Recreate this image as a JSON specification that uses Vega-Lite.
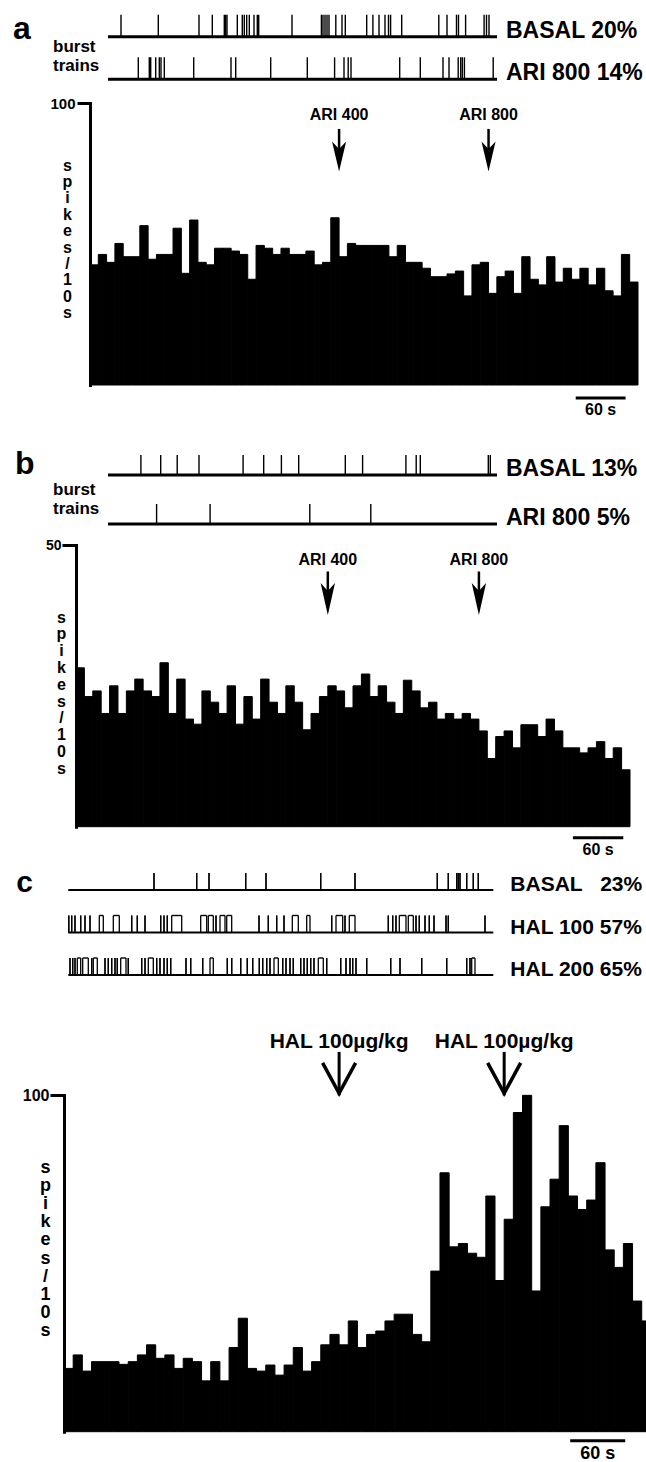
{
"$schema": "https://vega.github.io/schema/vega-lite/v6.json",
"width": 646, "height": 1462,
"autosize": {"type": "none"},
"padding": 0,
"background": "white",
"config": {"view": {"stroke": null}, "text": {"font": "Liberation Sans", "fontWeight": "bold", "color": "black"}},
"datasets": {
"hist_a": [{"t0":0,"t1":10,"v":42.6},{"t0":10,"t1":20,"v":46.3},{"t0":20,"t1":30,"v":43.5},{"t0":30,"t1":40,"v":50.2},{"t0":40,"t1":50,"v":45.5},{"t0":50,"t1":60,"v":45.5},{"t0":60,"t1":70,"v":56.5},{"t0":70,"t1":80,"v":44.6},{"t0":80,"t1":90,"v":46.3},{"t0":90,"t1":100,"v":46.3},{"t0":100,"t1":110,"v":55.6},{"t0":110,"t1":120,"v":39.6},{"t0":120,"t1":130,"v":58.5},{"t0":130,"t1":140,"v":43.5},{"t0":140,"t1":150,"v":42.6},{"t0":150,"t1":160,"v":48.5},{"t0":160,"t1":170,"v":48.5},{"t0":170,"t1":180,"v":47.5},{"t0":180,"t1":190,"v":46.3},{"t0":190,"t1":200,"v":37.5},{"t0":200,"t1":210,"v":49.5},{"t0":210,"t1":220,"v":48.5},{"t0":220,"t1":230,"v":46.3},{"t0":230,"t1":240,"v":48.5},{"t0":240,"t1":250,"v":46.3},{"t0":250,"t1":260,"v":46.3},{"t0":260,"t1":270,"v":47.5},{"t0":270,"t1":280,"v":42.6},{"t0":280,"t1":290,"v":43.5},{"t0":290,"t1":300,"v":59.3},{"t0":300,"t1":310,"v":45.5},{"t0":310,"t1":320,"v":50.2},{"t0":320,"t1":330,"v":49.5},{"t0":330,"t1":340,"v":49.5},{"t0":340,"t1":350,"v":49.5},{"t0":350,"t1":360,"v":49.5},{"t0":360,"t1":370,"v":45.5},{"t0":370,"t1":380,"v":49.5},{"t0":380,"t1":390,"v":43.5},{"t0":390,"t1":400,"v":43.5},{"t0":400,"t1":410,"v":41.4},{"t0":410,"t1":420,"v":38.4},{"t0":420,"t1":430,"v":38.4},{"t0":430,"t1":440,"v":39.4},{"t0":440,"t1":450,"v":40.4},{"t0":450,"t1":460,"v":31.6},{"t0":460,"t1":470,"v":42.6},{"t0":470,"t1":480,"v":43.5},{"t0":480,"t1":490,"v":32.5},{"t0":490,"t1":500,"v":38.4},{"t0":500,"t1":510,"v":40.4},{"t0":510,"t1":520,"v":32.5},{"t0":520,"t1":530,"v":45.5},{"t0":530,"t1":540,"v":37.5},{"t0":540,"t1":550,"v":35.5},{"t0":550,"t1":560,"v":45.5},{"t0":560,"t1":570,"v":36.5},{"t0":570,"t1":580,"v":41.4},{"t0":580,"t1":590,"v":37.5},{"t0":590,"t1":600,"v":41.4},{"t0":600,"t1":610,"v":35.5},{"t0":610,"t1":620,"v":41.4},{"t0":620,"t1":630,"v":33.4},{"t0":630,"t1":640,"v":31.6},{"t0":640,"t1":650,"v":46.3},{"t0":650,"t1":660,"v":36.5}],
"hist_b": [{"t0":0,"t1":10,"v":28.2},{"t0":10,"t1":20,"v":23.1},{"t0":20,"t1":30,"v":24.1},{"t0":30,"t1":40,"v":20.1},{"t0":40,"t1":50,"v":25.0},{"t0":50,"t1":60,"v":20.1},{"t0":60,"t1":70,"v":24.1},{"t0":70,"t1":80,"v":26.2},{"t0":80,"t1":90,"v":24.1},{"t0":90,"t1":100,"v":23.1},{"t0":100,"t1":110,"v":29.1},{"t0":110,"t1":120,"v":20.1},{"t0":120,"t1":130,"v":26.2},{"t0":130,"t1":140,"v":19.1},{"t0":140,"t1":150,"v":18.2},{"t0":150,"t1":160,"v":24.1},{"t0":160,"t1":170,"v":22.1},{"t0":170,"t1":180,"v":20.1},{"t0":180,"t1":190,"v":25.0},{"t0":190,"t1":200,"v":18.2},{"t0":200,"t1":210,"v":23.1},{"t0":210,"t1":220,"v":19.1},{"t0":220,"t1":230,"v":26.2},{"t0":230,"t1":240,"v":22.1},{"t0":240,"t1":250,"v":20.1},{"t0":250,"t1":260,"v":25.0},{"t0":260,"t1":270,"v":22.1},{"t0":270,"t1":280,"v":17.2},{"t0":280,"t1":290,"v":20.1},{"t0":290,"t1":300,"v":23.1},{"t0":300,"t1":310,"v":25.0},{"t0":310,"t1":320,"v":24.1},{"t0":320,"t1":330,"v":21.1},{"t0":330,"t1":340,"v":25.0},{"t0":340,"t1":350,"v":27.1},{"t0":350,"t1":360,"v":23.1},{"t0":360,"t1":370,"v":25.0},{"t0":370,"t1":380,"v":22.1},{"t0":380,"t1":390,"v":20.1},{"t0":390,"t1":400,"v":26.0},{"t0":400,"t1":410,"v":24.1},{"t0":410,"t1":420,"v":21.1},{"t0":420,"t1":430,"v":22.1},{"t0":430,"t1":440,"v":19.1},{"t0":440,"t1":450,"v":20.1},{"t0":450,"t1":460,"v":19.1},{"t0":460,"t1":470,"v":20.1},{"t0":470,"t1":480,"v":19.1},{"t0":480,"t1":490,"v":17.0},{"t0":490,"t1":500,"v":12.1},{"t0":500,"t1":510,"v":16.0},{"t0":510,"t1":520,"v":17.0},{"t0":520,"t1":530,"v":14.0},{"t0":530,"t1":540,"v":18.1},{"t0":540,"t1":550,"v":18.1},{"t0":550,"t1":560,"v":16.0},{"t0":560,"t1":570,"v":19.1},{"t0":570,"t1":580,"v":17.0},{"t0":580,"t1":590,"v":14.0},{"t0":590,"t1":600,"v":14.0},{"t0":600,"t1":610,"v":13.1},{"t0":610,"t1":620,"v":14.0},{"t0":620,"t1":630,"v":15.1},{"t0":630,"t1":640,"v":12.1},{"t0":640,"t1":650,"v":14.0},{"t0":650,"t1":660,"v":10.1}],
"hist_c": [{"t0":0,"t1":10,"v":18.8},{"t0":10,"t1":20,"v":22.8},{"t0":20,"t1":30,"v":18.0},{"t0":30,"t1":40,"v":20.8},{"t0":40,"t1":50,"v":20.8},{"t0":50,"t1":60,"v":20.8},{"t0":60,"t1":70,"v":20.0},{"t0":70,"t1":80,"v":20.8},{"t0":80,"t1":90,"v":22.8},{"t0":90,"t1":100,"v":25.8},{"t0":100,"t1":110,"v":21.8},{"t0":110,"t1":120,"v":22.8},{"t0":120,"t1":130,"v":18.8},{"t0":130,"t1":140,"v":21.8},{"t0":140,"t1":150,"v":20.8},{"t0":150,"t1":160,"v":15.1},{"t0":160,"t1":170,"v":20.8},{"t0":170,"t1":180,"v":15.1},{"t0":180,"t1":190,"v":25.0},{"t0":190,"t1":200,"v":33.7},{"t0":200,"t1":210,"v":18.8},{"t0":210,"t1":220,"v":18.0},{"t0":220,"t1":230,"v":19.8},{"t0":230,"t1":240,"v":16.8},{"t0":240,"t1":250,"v":19.8},{"t0":250,"t1":260,"v":25.0},{"t0":260,"t1":270,"v":18.0},{"t0":270,"t1":280,"v":20.8},{"t0":280,"t1":290,"v":25.8},{"t0":290,"t1":300,"v":28.9},{"t0":300,"t1":310,"v":25.8},{"t0":310,"t1":320,"v":32.9},{"t0":320,"t1":330,"v":25.0},{"t0":330,"t1":340,"v":28.9},{"t0":340,"t1":350,"v":29.9},{"t0":350,"t1":360,"v":32.9},{"t0":360,"t1":370,"v":34.9},{"t0":370,"t1":380,"v":34.9},{"t0":380,"t1":390,"v":28.9},{"t0":390,"t1":400,"v":26.7},{"t0":400,"t1":410,"v":47.7},{"t0":410,"t1":420,"v":76.9},{"t0":420,"t1":430,"v":54.9},{"t0":430,"t1":440,"v":55.9},{"t0":440,"t1":450,"v":53.0},{"t0":450,"t1":460,"v":51.8},{"t0":460,"t1":470,"v":70.0},{"t0":470,"t1":480,"v":44.9},{"t0":480,"t1":490,"v":63.1},{"t0":490,"t1":500,"v":94.8},{"t0":500,"t1":510,"v":99.9},{"t0":510,"t1":520,"v":41.8},{"t0":520,"t1":530,"v":66.8},{"t0":530,"t1":540,"v":75.0},{"t0":540,"t1":550,"v":90.9},{"t0":550,"t1":560,"v":70.0},{"t0":560,"t1":570,"v":66.0},{"t0":570,"t1":580,"v":68.8},{"t0":580,"t1":590,"v":79.9},{"t0":590,"t1":600,"v":54.0},{"t0":600,"t1":610,"v":48.8},{"t0":610,"t1":620,"v":55.9},{"t0":620,"t1":630,"v":38.8},{"t0":630,"t1":640,"v":32.9}],
"arr_a": [{"t":300,"label":"ARI 400"},{"t":480,"label":"ARI 800"}],
"arr_b": [{"t":300,"label":"ARI 400"},{"t":480,"label":"ARI 800"}],
"arr_c": [{"t":300,"label":"HAL 100µg/kg"},{"t":480,"label":"HAL 100µg/kg"}],
"bar_a": [{"t0":585,"t1":645,"tm":615,"label":"60 s"}],
"bar_b": [{"t0":592,"t1":652,"tm":622,"label":"60 s"}],
"bar_c": [{"t0":552,"t1":612,"tm":582,"label":"60 s"}],
"rows_a": [{"row":"BASAL 20%","start":0,"end":38.9},{"row":"ARI 800 14%","start":0,"end":38.9}],
"rows_b": [{"row":"BASAL 13%","start":0,"end":38.9},{"row":"ARI 800 5%","start":0,"end":38.9}],
"rows_c": [{"row":"BASAL\u00a0\u00a0\u00a023%","start":0,"end":42.5},{"row":"HAL 100 57%","start":0,"end":42.5},{"row":"HAL 200 65%","start":0,"end":42.5}],
"ras_a": [
{"row":"BASAL 20%","t":1.3},{"row":"BASAL 20%","t":5.03},{"row":"BASAL 20%","t":9.1},{"row":"BASAL 20%","t":10.43},{"row":"BASAL 20%","t":11.63},{"row":"BASAL 20%","t":11.77},{"row":"BASAL 20%","t":11.9},{"row":"BASAL 20%","t":12.93},{"row":"BASAL 20%","t":13.43},{"row":"BASAL 20%","t":13.63},{"row":"BASAL 20%","t":13.87},{"row":"BASAL 20%","t":14.13},{"row":"BASAL 20%","t":14.6},{"row":"BASAL 20%","t":14.93},{"row":"BASAL 20%","t":15.07},{"row":"BASAL 20%","t":18.4},{"row":"BASAL 20%","t":21.34},{"row":"BASAL 20%","t":21.5},{"row":"BASAL 20%","t":21.7},{"row":"BASAL 20%","t":21.9},{"row":"BASAL 20%","t":22.1},{"row":"BASAL 20%","t":22.78},{"row":"BASAL 20%","t":23.4},{"row":"BASAL 20%","t":23.73},{"row":"BASAL 20%","t":25.87},{"row":"BASAL 20%","t":26.49},{"row":"BASAL 20%","t":27.1},{"row":"BASAL 20%","t":27.7},{"row":"BASAL 20%","t":28.05},{"row":"BASAL 20%","t":28.26},{"row":"BASAL 20%","t":29.37},{"row":"BASAL 20%","t":33.08},{"row":"BASAL 20%","t":33.9},{"row":"BASAL 20%","t":34.85},{"row":"BASAL 20%","t":35.05},{"row":"BASAL 20%","t":35.76},{"row":"BASAL 20%","t":37.61},{"row":"BASAL 20%","t":37.85},{"row":"BASAL 20%","t":38.1},
{"row":"ARI 800 14%","t":3.03},{"row":"ARI 800 14%","t":4.13},{"row":"ARI 800 14%","t":4.27},{"row":"ARI 800 14%","t":4.77},{"row":"ARI 800 14%","t":5.13},{"row":"ARI 800 14%","t":5.3},{"row":"ARI 800 14%","t":5.63},{"row":"ARI 800 14%","t":8.57},{"row":"ARI 800 14%","t":12.3},{"row":"ARI 800 14%","t":12.77},{"row":"ARI 800 14%","t":16.27},{"row":"ARI 800 14%","t":19.93},{"row":"ARI 800 14%","t":22.66},{"row":"ARI 800 14%","t":23.6},{"row":"ARI 800 14%","t":24.02},{"row":"ARI 800 14%","t":24.3},{"row":"ARI 800 14%","t":29.17},{"row":"ARI 800 14%","t":31.23},{"row":"ARI 800 14%","t":33.5},{"row":"ARI 800 14%","t":34.1},{"row":"ARI 800 14%","t":35.02},{"row":"ARI 800 14%","t":35.27},{"row":"ARI 800 14%","t":35.43},{"row":"ARI 800 14%","t":35.64},{"row":"ARI 800 14%","t":38.52}],
"ras_b": [
{"row":"BASAL 13%","t":3.29},{"row":"BASAL 13%","t":5.27},{"row":"BASAL 13%","t":6.92},{"row":"BASAL 13%","t":9.1},{"row":"BASAL 13%","t":13.51},{"row":"BASAL 13%","t":15.57},{"row":"BASAL 13%","t":17.34},{"row":"BASAL 13%","t":19.07},{"row":"BASAL 13%","t":23.73},{"row":"BASAL 13%","t":25.46},{"row":"BASAL 13%","t":29.79},{"row":"BASAL 13%","t":30.82},{"row":"BASAL 13%","t":31.23},{"row":"BASAL 13%","t":38.03},{"row":"BASAL 13%","t":38.23},
{"row":"ARI 800 5%","t":4.86},{"row":"ARI 800 5%","t":10.21},{"row":"ARI 800 5%","t":20.18},{"row":"ARI 800 5%","t":26.28}],
"ras_c": [
{"row":"BASAL\u00a0\u00a0\u00a023%","t0":8.57,"t1":8.57},{"row":"BASAL\u00a0\u00a0\u00a023%","t0":12.84,"t1":12.84},{"row":"BASAL\u00a0\u00a0\u00a023%","t0":14.07,"t1":14.07},{"row":"BASAL\u00a0\u00a0\u00a023%","t0":17.74,"t1":17.74},{"row":"BASAL\u00a0\u00a0\u00a023%","t0":19.77,"t1":19.77},{"row":"BASAL\u00a0\u00a0\u00a023%","t0":25.24,"t1":25.24},{"row":"BASAL\u00a0\u00a0\u00a023%","t0":28.67,"t1":28.67},{"row":"BASAL\u00a0\u00a0\u00a023%","t0":36.9,"t1":36.9},{"row":"BASAL\u00a0\u00a0\u00a023%","t0":38.0,"t1":38.0},{"row":"BASAL\u00a0\u00a0\u00a023%","t0":38.84,"t1":38.84},{"row":"BASAL\u00a0\u00a0\u00a023%","t0":39.0,"t1":39.0},{"row":"BASAL\u00a0\u00a0\u00a023%","t0":39.17,"t1":39.17},{"row":"BASAL\u00a0\u00a0\u00a023%","t0":39.84,"t1":39.84},{"row":"BASAL\u00a0\u00a0\u00a023%","t0":40.5,"t1":40.5},{"row":"BASAL\u00a0\u00a0\u00a023%","t0":41.0,"t1":41.0},
{"row":"HAL 100 57%","t0":0.05,"t1":0.05},{"row":"HAL 100 57%","t0":0.34,"t1":0.34},{"row":"HAL 100 57%","t0":0.67,"t1":0.67},{"row":"HAL 100 57%","t0":1.24,"t1":1.24},{"row":"HAL 100 57%","t0":1.67,"t1":1.67},{"row":"HAL 100 57%","t0":2.17,"t1":2.17},{"row":"HAL 100 57%","t0":3.1,"t1":3.5},{"row":"HAL 100 57%","t0":4.5,"t1":5.1},{"row":"HAL 100 57%","t0":6.34,"t1":6.34},{"row":"HAL 100 57%","t0":6.9,"t1":6.9},{"row":"HAL 100 57%","t0":7.67,"t1":7.67},{"row":"HAL 100 57%","t0":9.24,"t1":9.24},{"row":"HAL 100 57%","t0":9.57,"t1":9.57},{"row":"HAL 100 57%","t0":9.9,"t1":9.9},{"row":"HAL 100 57%","t0":10.34,"t1":11.34},{"row":"HAL 100 57%","t0":13.24,"t1":13.84},{"row":"HAL 100 57%","t0":14.0,"t1":14.5},{"row":"HAL 100 57%","t0":14.77,"t1":14.77},{"row":"HAL 100 57%","t0":15.17,"t1":15.67},{"row":"HAL 100 57%","t0":15.84,"t1":16.34},{"row":"HAL 100 57%","t0":19.07,"t1":19.07},{"row":"HAL 100 57%","t0":20.0,"t1":20.0},{"row":"HAL 100 57%","t0":20.84,"t1":20.84},{"row":"HAL 100 57%","t0":21.57,"t1":21.57},{"row":"HAL 100 57%","t0":22.4,"t1":23.0},{"row":"HAL 100 57%","t0":23.84,"t1":24.17},{"row":"HAL 100 57%","t0":26.34,"t1":26.34},{"row":"HAL 100 57%","t0":26.77,"t1":27.44},{"row":"HAL 100 57%","t0":27.67,"t1":27.67},{"row":"HAL 100 57%","t0":28.1,"t1":28.67},{"row":"HAL 100 57%","t0":32.0,"t1":32.0},{"row":"HAL 100 57%","t0":32.44,"t1":32.44},{"row":"HAL 100 57%","t0":32.77,"t1":32.77},{"row":"HAL 100 57%","t0":33.1,"t1":33.77},{"row":"HAL 100 57%","t0":34.0,"t1":34.5},{"row":"HAL 100 57%","t0":34.77,"t1":34.77},{"row":"HAL 100 57%","t0":35.1,"t1":35.1},{"row":"HAL 100 57%","t0":35.67,"t1":35.67},{"row":"HAL 100 57%","t0":36.1,"t1":36.1},{"row":"HAL 100 57%","t0":36.57,"t1":36.57},{"row":"HAL 100 57%","t0":37.77,"t1":37.77},{"row":"HAL 100 57%","t0":38.0,"t1":38.0},{"row":"HAL 100 57%","t0":41.67,"t1":41.67},
{"row":"HAL 200 65%","t0":0.17,"t1":0.17},{"row":"HAL 200 65%","t0":0.44,"t1":0.44},{"row":"HAL 200 65%","t0":0.67,"t1":0.67},{"row":"HAL 200 65%","t0":0.9,"t1":1.24},{"row":"HAL 200 65%","t0":1.44,"t1":2.0},{"row":"HAL 200 65%","t0":2.34,"t1":2.34},{"row":"HAL 200 65%","t0":2.5,"t1":2.9},{"row":"HAL 200 65%","t0":3.67,"t1":3.67},{"row":"HAL 200 65%","t0":4.0,"t1":4.0},{"row":"HAL 200 65%","t0":4.34,"t1":4.34},{"row":"HAL 200 65%","t0":4.67,"t1":4.67},{"row":"HAL 200 65%","t0":4.9,"t1":4.9},{"row":"HAL 200 65%","t0":5.24,"t1":5.77},{"row":"HAL 200 65%","t0":6.0,"t1":6.0},{"row":"HAL 200 65%","t0":7.34,"t1":7.34},{"row":"HAL 200 65%","t0":7.67,"t1":7.67},{"row":"HAL 200 65%","t0":8.0,"t1":8.5},{"row":"HAL 200 65%","t0":8.84,"t1":8.84},{"row":"HAL 200 65%","t0":9.17,"t1":9.17},{"row":"HAL 200 65%","t0":9.57,"t1":9.57},{"row":"HAL 200 65%","t0":9.9,"t1":9.9},{"row":"HAL 200 65%","t0":10.24,"t1":10.24},{"row":"HAL 200 65%","t0":11.77,"t1":11.77},{"row":"HAL 200 65%","t0":12.24,"t1":12.24},{"row":"HAL 200 65%","t0":13.44,"t1":13.44},{"row":"HAL 200 65%","t0":14.17,"t1":14.5},{"row":"HAL 200 65%","t0":15.9,"t1":15.9},{"row":"HAL 200 65%","t0":16.34,"t1":16.34},{"row":"HAL 200 65%","t0":17.24,"t1":17.24},{"row":"HAL 200 65%","t0":17.9,"t1":17.9},{"row":"HAL 200 65%","t0":18.44,"t1":18.44},{"row":"HAL 200 65%","t0":19.1,"t1":19.1},{"row":"HAL 200 65%","t0":19.44,"t1":19.44},{"row":"HAL 200 65%","t0":19.84,"t1":19.84},{"row":"HAL 200 65%","t0":20.17,"t1":20.17},{"row":"HAL 200 65%","t0":20.57,"t1":21.0},{"row":"HAL 200 65%","t0":21.44,"t1":21.44},{"row":"HAL 200 65%","t0":21.77,"t1":21.77},{"row":"HAL 200 65%","t0":22.17,"t1":22.17},{"row":"HAL 200 65%","t0":22.5,"t1":22.5},{"row":"HAL 200 65%","t0":23.24,"t1":23.24},{"row":"HAL 200 65%","t0":23.57,"t1":23.57},{"row":"HAL 200 65%","t0":23.9,"t1":23.9},{"row":"HAL 200 65%","t0":24.24,"t1":24.24},{"row":"HAL 200 65%","t0":24.57,"t1":24.57},{"row":"HAL 200 65%","t0":25.0,"t1":25.5},{"row":"HAL 200 65%","t0":25.84,"t1":25.84},{"row":"HAL 200 65%","t0":27.24,"t1":27.24},{"row":"HAL 200 65%","t0":27.77,"t1":27.77},{"row":"HAL 200 65%","t0":28.17,"t1":28.17},{"row":"HAL 200 65%","t0":28.44,"t1":28.44},{"row":"HAL 200 65%","t0":28.77,"t1":28.77},{"row":"HAL 200 65%","t0":29.84,"t1":29.84},{"row":"HAL 200 65%","t0":32.24,"t1":32.24},{"row":"HAL 200 65%","t0":33.17,"t1":33.17},{"row":"HAL 200 65%","t0":35.34,"t1":35.34},{"row":"HAL 200 65%","t0":37.84,"t1":37.84},{"row":"HAL 200 65%","t0":39.84,"t1":39.84},{"row":"HAL 200 65%","t0":40.17,"t1":40.17},{"row":"HAL 200 65%","t0":40.34,"t1":40.67}]
},
"resolve": {"scale": {"x": "independent", "y": "independent"}},
"layer": [
{"data": {"name": "hist_a"}, "mark": {"type": "rect", "color": "black", "stroke": "black", "strokeWidth": 1},
 "encoding": {
  "x": {"field": "t0", "type": "quantitative", "scale": {"domain": [0, 660], "range": [90, 638], "nice": false, "zero": false}, "axis": null},
  "x2": {"field": "t1"},
  "y": {"field": "v", "type": "quantitative", "scale": {"domain": [0, 100], "range": [385, 103], "nice": false, "zero": false},
        "axis": {"orient": "left", "offset": -90, "values": [100], "grid": false, "domainColor": "black", "domainWidth": 3, "domainCap": "square", "tickColor": "black", "tickWidth": 3, "tickSize": 13, "labelFont": "Liberation Sans", "labelFontWeight": "bold", "labelFontSize": 15, "labelColor": "black", "labelPadding": 2, "title": ["s","p","i","k","e","s","/","1","0","s"], "titleFont": "Liberation Sans", "titleFontWeight": "bold", "titleFontSize": 16, "titleColor": "black", "titleAngle": 0, "titleAlign": "center", "titleBaseline": "top", "titleX": -23, "titleY": 157, "titleLineHeight": 16.4}},
  "y2": {"datum": 0}}},
{"data": {"name": "arr_a"}, "mark": {"type": "text", "fontSize": 16, "align": "center", "baseline": "alphabetic"},
 "encoding": {"x": {"field": "t", "type": "quantitative", "scale": {"domain": [0, 660], "range": [90, 638], "nice": false, "zero": false}, "axis": null},
  "y": {"datum": 93.8, "type": "quantitative", "scale": {"domain": [0, 100], "range": [385, 103], "nice": false, "zero": false}, "axis": null},
  "text": {"field": "label"}}},
{"data": {"name": "arr_a"}, "mark": {"type": "rule", "color": "black", "strokeWidth": 2.5},
 "encoding": {"x": {"field": "t", "type": "quantitative", "scale": {"domain": [0, 660], "range": [90, 638], "nice": false, "zero": false}, "axis": null},
  "y": {"datum": 90.8, "type": "quantitative", "scale": {"domain": [0, 100], "range": [385, 103], "nice": false, "zero": false}, "axis": null},
  "y2": {"datum": 81}}},
{"data": {"name": "arr_a"}, "mark": {"type": "point", "shape": "M0,1L-0.47,-1L0,-0.5L0.47,-1Z", "size": 900, "filled": true, "color": "black", "opacity": 1, "strokeWidth": 0},
 "encoding": {"x": {"field": "t", "type": "quantitative", "scale": {"domain": [0, 660], "range": [90, 638], "nice": false, "zero": false}, "axis": null},
  "y": {"datum": 81, "type": "quantitative", "scale": {"domain": [0, 100], "range": [385, 103], "nice": false, "zero": false}, "axis": null}}},
{"data": {"name": "bar_a"}, "mark": {"type": "rule", "color": "black", "strokeWidth": 3},
 "encoding": {"x": {"field": "t0", "type": "quantitative", "scale": {"domain": [0, 660], "range": [90, 638], "nice": false, "zero": false}, "axis": null},
  "x2": {"field": "t1"},
  "y": {"datum": -4.6, "type": "quantitative", "scale": {"domain": [0, 100], "range": [385, 103], "nice": false, "zero": false}, "axis": null}}},
{"data": {"name": "bar_a"}, "mark": {"type": "text", "fontSize": 16, "align": "center", "baseline": "top", "dy": 4},
 "encoding": {"x": {"field": "tm", "type": "quantitative", "scale": {"domain": [0, 660], "range": [90, 638], "nice": false, "zero": false}, "axis": null},
  "y": {"datum": -4.6, "type": "quantitative", "scale": {"domain": [0, 100], "range": [385, 103], "nice": false, "zero": false}, "axis": null},
  "text": {"field": "label"}}},
{"data": {"name": "rows_a"}, "mark": {"type": "rule", "color": "black", "strokeWidth": 3},
 "encoding": {"x": {"field": "start", "type": "quantitative", "scale": {"domain": [0, 38.9], "range": [108, 497], "nice": false, "zero": false}, "axis": null},
  "x2": {"field": "end"},
  "y": {"field": "row", "type": "nominal", "scale": {"type": "point", "domain": ["BASAL 20%", "ARI 800 14%"], "range": [36.7, 79.3], "padding": 0}, "axis": null}}},
{"data": {"name": "ras_a"}, "mark": {"type": "tick", "orient": "vertical", "size": 22, "thickness": 1.4, "color": "black", "opacity": 1, "yOffset": -11},
 "encoding": {"x": {"field": "t", "type": "quantitative", "scale": {"domain": [0, 38.9], "range": [108, 497], "nice": false, "zero": false}, "axis": null},
  "y": {"field": "row", "type": "nominal", "scale": {"type": "point", "domain": ["BASAL 20%", "ARI 800 14%"], "range": [36.7, 79.3], "padding": 0}, "axis": null}}},
{"data": {"name": "rows_a"}, "mark": {"type": "text", "fontSize": 23, "align": "left", "baseline": "alphabetic", "dx": 9, "dy": 1},
 "encoding": {"x": {"field": "end", "type": "quantitative", "scale": {"domain": [0, 38.9], "range": [108, 497], "nice": false, "zero": false}, "axis": null},
  "y": {"field": "row", "type": "nominal", "scale": {"type": "point", "domain": ["BASAL 20%", "ARI 800 14%"], "range": [36.7, 79.3], "padding": 0}, "axis": null},
  "text": {"field": "row"}}},
{"data": {"values": [{"label": "burst\ntrains"}]}, "mark": {"type": "text", "fontSize": 17, "align": "left", "baseline": "alphabetic", "lineBreak": "\n", "lineHeight": 19, "dx": -55, "dy": -27},
 "encoding": {"x": {"datum": 0, "type": "quantitative", "scale": {"domain": [0, 38.9], "range": [108, 497], "nice": false, "zero": false}, "axis": null},
  "y": {"datum": "ARI 800 14%", "type": "nominal", "scale": {"type": "point", "domain": ["BASAL 20%", "ARI 800 14%"], "range": [36.7, 79.3], "padding": 0}, "axis": null},
  "text": {"field": "label"}}},
{"data": {"values": [{"label": "a"}]}, "mark": {"type": "text", "fontSize": 32, "align": "left", "baseline": "alphabetic", "dx": -95, "dy": 2},
 "encoding": {"x": {"datum": 0, "type": "quantitative", "scale": {"domain": [0, 38.9], "range": [108, 497], "nice": false, "zero": false}, "axis": null},
  "y": {"datum": "BASAL 20%", "type": "nominal", "scale": {"type": "point", "domain": ["BASAL 20%", "ARI 800 14%"], "range": [36.7, 79.3], "padding": 0}, "axis": null},
  "text": {"field": "label"}}},

{"data": {"name": "hist_b"}, "mark": {"type": "rect", "color": "black", "stroke": "black", "strokeWidth": 1},
 "encoding": {
  "x": {"field": "t0", "type": "quantitative", "scale": {"domain": [0, 660], "range": [76, 630], "nice": false, "zero": false}, "axis": null},
  "x2": {"field": "t1"},
  "y": {"field": "v", "type": "quantitative", "scale": {"domain": [0, 50], "range": [826.7, 545], "nice": false, "zero": false},
        "axis": {"orient": "left", "offset": -76, "values": [50], "grid": false, "domainColor": "black", "domainWidth": 3, "domainCap": "square", "tickColor": "black", "tickWidth": 3, "tickSize": 14, "labelFont": "Liberation Sans", "labelFontWeight": "bold", "labelFontSize": 14, "labelColor": "black", "labelPadding": 1, "title": ["s","p","i","k","e","s","/","1","0","s"], "titleFont": "Liberation Sans", "titleFontWeight": "bold", "titleFontSize": 16, "titleColor": "black", "titleAngle": 0, "titleAlign": "center", "titleBaseline": "top", "titleX": -15, "titleY": 609, "titleLineHeight": 16.8}},
  "y2": {"datum": 0}}},
{"data": {"name": "arr_b"}, "mark": {"type": "text", "fontSize": 16, "align": "center", "baseline": "alphabetic"},
 "encoding": {"x": {"field": "t", "type": "quantitative", "scale": {"domain": [0, 660], "range": [76, 630], "nice": false, "zero": false}, "axis": null},
  "y": {"datum": 46.5, "type": "quantitative", "scale": {"domain": [0, 50], "range": [826.7, 545], "nice": false, "zero": false}, "axis": null},
  "text": {"field": "label"}}},
{"data": {"name": "arr_b"}, "mark": {"type": "rule", "color": "black", "strokeWidth": 2.5},
 "encoding": {"x": {"field": "t", "type": "quantitative", "scale": {"domain": [0, 660], "range": [76, 630], "nice": false, "zero": false}, "axis": null},
  "y": {"datum": 45.3, "type": "quantitative", "scale": {"domain": [0, 50], "range": [826.7, 545], "nice": false, "zero": false}, "axis": null},
  "y2": {"datum": 40.4}}},
{"data": {"name": "arr_b"}, "mark": {"type": "point", "shape": "M0,1L-0.45,-1L0,-0.5L0.45,-1Z", "size": 1024, "filled": true, "color": "black", "opacity": 1, "strokeWidth": 0},
 "encoding": {"x": {"field": "t", "type": "quantitative", "scale": {"domain": [0, 660], "range": [76, 630], "nice": false, "zero": false}, "axis": null},
  "y": {"datum": 40.4, "type": "quantitative", "scale": {"domain": [0, 50], "range": [826.7, 545], "nice": false, "zero": false}, "axis": null}}},
{"data": {"name": "bar_b"}, "mark": {"type": "rule", "color": "black", "strokeWidth": 3},
 "encoding": {"x": {"field": "t0", "type": "quantitative", "scale": {"domain": [0, 660], "range": [76, 630], "nice": false, "zero": false}, "axis": null},
  "x2": {"field": "t1"},
  "y": {"datum": -1.95, "type": "quantitative", "scale": {"domain": [0, 50], "range": [826.7, 545], "nice": false, "zero": false}, "axis": null}}},
{"data": {"name": "bar_b"}, "mark": {"type": "text", "fontSize": 16, "align": "center", "baseline": "top", "dy": 4},
 "encoding": {"x": {"field": "tm", "type": "quantitative", "scale": {"domain": [0, 660], "range": [76, 630], "nice": false, "zero": false}, "axis": null},
  "y": {"datum": -1.95, "type": "quantitative", "scale": {"domain": [0, 50], "range": [826.7, 545], "nice": false, "zero": false}, "axis": null},
  "text": {"field": "label"}}},
{"data": {"name": "rows_b"}, "mark": {"type": "rule", "color": "black", "strokeWidth": 3},
 "encoding": {"x": {"field": "start", "type": "quantitative", "scale": {"domain": [0, 38.9], "range": [108, 497], "nice": false, "zero": false}, "axis": null},
  "x2": {"field": "end"},
  "y": {"field": "row", "type": "nominal", "scale": {"type": "point", "domain": ["BASAL 13%", "ARI 800 5%"], "range": [475, 524], "padding": 0}, "axis": null}}},
{"data": {"name": "ras_b"}, "mark": {"type": "tick", "orient": "vertical", "size": 20, "thickness": 1.4, "color": "black", "opacity": 1, "yOffset": -10},
 "encoding": {"x": {"field": "t", "type": "quantitative", "scale": {"domain": [0, 38.9], "range": [108, 497], "nice": false, "zero": false}, "axis": null},
  "y": {"field": "row", "type": "nominal", "scale": {"type": "point", "domain": ["BASAL 13%", "ARI 800 5%"], "range": [475, 524], "padding": 0}, "axis": null}}},
{"data": {"name": "rows_b"}, "mark": {"type": "text", "fontSize": 23, "align": "left", "baseline": "alphabetic", "dx": 9, "dy": 1},
 "encoding": {"x": {"field": "end", "type": "quantitative", "scale": {"domain": [0, 38.9], "range": [108, 497], "nice": false, "zero": false}, "axis": null},
  "y": {"field": "row", "type": "nominal", "scale": {"type": "point", "domain": ["BASAL 13%", "ARI 800 5%"], "range": [475, 524], "padding": 0}, "axis": null},
  "text": {"field": "row"}}},
{"data": {"values": [{"label": "burst\ntrains"}]}, "mark": {"type": "text", "fontSize": 17, "align": "left", "baseline": "alphabetic", "lineBreak": "\n", "lineHeight": 19, "dx": -55, "dy": -29},
 "encoding": {"x": {"datum": 0, "type": "quantitative", "scale": {"domain": [0, 38.9], "range": [108, 497], "nice": false, "zero": false}, "axis": null},
  "y": {"datum": "ARI 800 5%", "type": "nominal", "scale": {"type": "point", "domain": ["BASAL 13%", "ARI 800 5%"], "range": [475, 524], "padding": 0}, "axis": null},
  "text": {"field": "label"}}},
{"data": {"values": [{"label": "b"}]}, "mark": {"type": "text", "fontSize": 32, "align": "left", "baseline": "alphabetic", "dx": -93, "dy": -1},
 "encoding": {"x": {"datum": 0, "type": "quantitative", "scale": {"domain": [0, 38.9], "range": [108, 497], "nice": false, "zero": false}, "axis": null},
  "y": {"datum": "BASAL 13%", "type": "nominal", "scale": {"type": "point", "domain": ["BASAL 13%", "ARI 800 5%"], "range": [475, 524], "padding": 0}, "axis": null},
  "text": {"field": "label"}}},

{"data": {"name": "hist_c"}, "mark": {"type": "rect", "color": "black", "stroke": "black", "strokeWidth": 1},
 "encoding": {
  "x": {"field": "t0", "type": "quantitative", "scale": {"domain": [0, 640], "range": [64, 650.9], "nice": false, "zero": false}, "axis": null},
  "x2": {"field": "t1"},
  "y": {"field": "v", "type": "quantitative", "scale": {"domain": [0, 100], "range": [1431.7, 1095], "nice": false, "zero": false},
        "axis": {"orient": "left", "offset": -64, "values": [100], "grid": false, "domainColor": "black", "domainWidth": 3, "domainCap": "square", "tickColor": "black", "tickWidth": 3, "tickSize": 14, "labelFont": "Liberation Sans", "labelFontWeight": "bold", "labelFontSize": 16, "labelColor": "black", "labelPadding": 1, "title": ["s","p","i","k","e","s","/","1","0","s"], "titleFont": "Liberation Sans", "titleFontWeight": "bold", "titleFontSize": 18, "titleColor": "black", "titleAngle": 0, "titleAlign": "center", "titleBaseline": "top", "titleX": -19, "titleY": 1158, "titleLineHeight": 18.2}},
  "y2": {"datum": 0}}},
{"data": {"name": "arr_c"}, "mark": {"type": "text", "fontSize": 21, "align": "center", "baseline": "alphabetic"},
 "encoding": {"x": {"field": "t", "type": "quantitative", "scale": {"domain": [0, 640], "range": [64, 650.9], "nice": false, "zero": false}, "axis": null},
  "y": {"datum": 114.1, "type": "quantitative", "scale": {"domain": [0, 100], "range": [1431.7, 1095], "nice": false, "zero": false}, "axis": null},
  "text": {"field": "label"}}},
{"data": {"name": "arr_c"}, "mark": {"type": "rule", "color": "black", "strokeWidth": 3},
 "encoding": {"x": {"field": "t", "type": "quantitative", "scale": {"domain": [0, 640], "range": [64, 650.9], "nice": false, "zero": false}, "axis": null},
  "y": {"datum": 112.8, "type": "quantitative", "scale": {"domain": [0, 100], "range": [1431.7, 1095], "nice": false, "zero": false}, "axis": null},
  "y2": {"datum": 99.9}}},
{"data": {"name": "arr_c"}, "mark": {"type": "point", "shape": "M-1,-0.85L0,1L1,-0.85", "size": 1089, "filled": false, "stroke": "black", "strokeWidth": 3.5, "strokeJoin": "miter", "opacity": 1},
 "encoding": {"x": {"field": "t", "type": "quantitative", "scale": {"domain": [0, 640], "range": [64, 650.9], "nice": false, "zero": false}, "axis": null},
  "y": {"datum": 105.4, "type": "quantitative", "scale": {"domain": [0, 100], "range": [1431.7, 1095], "nice": false, "zero": false}, "axis": null}}},
{"data": {"name": "bar_c"}, "mark": {"type": "rule", "color": "black", "strokeWidth": 3},
 "encoding": {"x": {"field": "t0", "type": "quantitative", "scale": {"domain": [0, 640], "range": [64, 650.9], "nice": false, "zero": false}, "axis": null},
  "x2": {"field": "t1"},
  "y": {"datum": -2.7, "type": "quantitative", "scale": {"domain": [0, 100], "range": [1431.7, 1095], "nice": false, "zero": false}, "axis": null}}},
{"data": {"name": "bar_c"}, "mark": {"type": "text", "fontSize": 18, "align": "center", "baseline": "alphabetic", "dy": 18},
 "encoding": {"x": {"field": "tm", "type": "quantitative", "scale": {"domain": [0, 640], "range": [64, 650.9], "nice": false, "zero": false}, "axis": null},
  "y": {"datum": -2.7, "type": "quantitative", "scale": {"domain": [0, 100], "range": [1431.7, 1095], "nice": false, "zero": false}, "axis": null},
  "text": {"field": "label"}}},
{"data": {"name": "rows_c"}, "mark": {"type": "rule", "color": "black", "strokeWidth": 2.2},
 "encoding": {"x": {"field": "start", "type": "quantitative", "scale": {"domain": [0, 42.5], "range": [68.3, 493.3], "nice": false, "zero": false}, "axis": null},
  "x2": {"field": "end"},
  "y": {"field": "row", "type": "nominal", "scale": {"type": "point", "domain": ["BASAL\u00a0\u00a0\u00a023%", "HAL 100 57%", "HAL 200 65%"], "range": [890, 975], "padding": 0}, "axis": null}}},
{"data": {"name": "ras_c"}, "mark": {"type": "tick", "orient": "vertical", "size": 17, "thickness": 1.3, "color": "black", "opacity": 1, "yOffset": -8.5},
 "encoding": {"x": {"field": "t0", "type": "quantitative", "scale": {"domain": [0, 42.5], "range": [68.3, 493.3], "nice": false, "zero": false}, "axis": null},
  "y": {"field": "row", "type": "nominal", "scale": {"type": "point", "domain": ["BASAL\u00a0\u00a0\u00a023%", "HAL 100 57%", "HAL 200 65%"], "range": [890, 975], "padding": 0}, "axis": null}}},
{"data": {"name": "ras_c"}, "mark": {"type": "tick", "orient": "vertical", "size": 17, "thickness": 1.3, "color": "black", "opacity": 1, "yOffset": -8.5},
 "encoding": {"x": {"field": "t1", "type": "quantitative", "scale": {"domain": [0, 42.5], "range": [68.3, 493.3], "nice": false, "zero": false}, "axis": null},
  "y": {"field": "row", "type": "nominal", "scale": {"type": "point", "domain": ["BASAL\u00a0\u00a0\u00a023%", "HAL 100 57%", "HAL 200 65%"], "range": [890, 975], "padding": 0}, "axis": null}}},
{"data": {"name": "ras_c"}, "mark": {"type": "rule", "color": "black", "strokeWidth": 1.4, "yOffset": -17},
 "encoding": {"x": {"field": "t0", "type": "quantitative", "scale": {"domain": [0, 42.5], "range": [68.3, 493.3], "nice": false, "zero": false}, "axis": null},
  "x2": {"field": "t1"},
  "y": {"field": "row", "type": "nominal", "scale": {"type": "point", "domain": ["BASAL\u00a0\u00a0\u00a023%", "HAL 100 57%", "HAL 200 65%"], "range": [890, 975], "padding": 0}, "axis": null}}},
{"data": {"name": "rows_c"}, "mark": {"type": "text", "fontSize": 21, "align": "left", "baseline": "alphabetic", "dx": 17, "dy": 1},
 "encoding": {"x": {"field": "end", "type": "quantitative", "scale": {"domain": [0, 42.5], "range": [68.3, 493.3], "nice": false, "zero": false}, "axis": null},
  "y": {"field": "row", "type": "nominal", "scale": {"type": "point", "domain": ["BASAL\u00a0\u00a0\u00a023%", "HAL 100 57%", "HAL 200 65%"], "range": [890, 975], "padding": 0}, "axis": null},
  "text": {"field": "row"}}},
{"data": {"values": [{"label": "c"}]}, "mark": {"type": "text", "fontSize": 30, "align": "left", "baseline": "alphabetic", "dx": -52, "dy": 2},
 "encoding": {"x": {"datum": 0, "type": "quantitative", "scale": {"domain": [0, 42.5], "range": [68.3, 493.3], "nice": false, "zero": false}, "axis": null},
  "y": {"datum": "BASAL\u00a0\u00a0\u00a023%", "type": "nominal", "scale": {"type": "point", "domain": ["BASAL\u00a0\u00a0\u00a023%", "HAL 100 57%", "HAL 200 65%"], "range": [890, 975], "padding": 0}, "axis": null},
  "text": {"field": "label"}}}
]
}
